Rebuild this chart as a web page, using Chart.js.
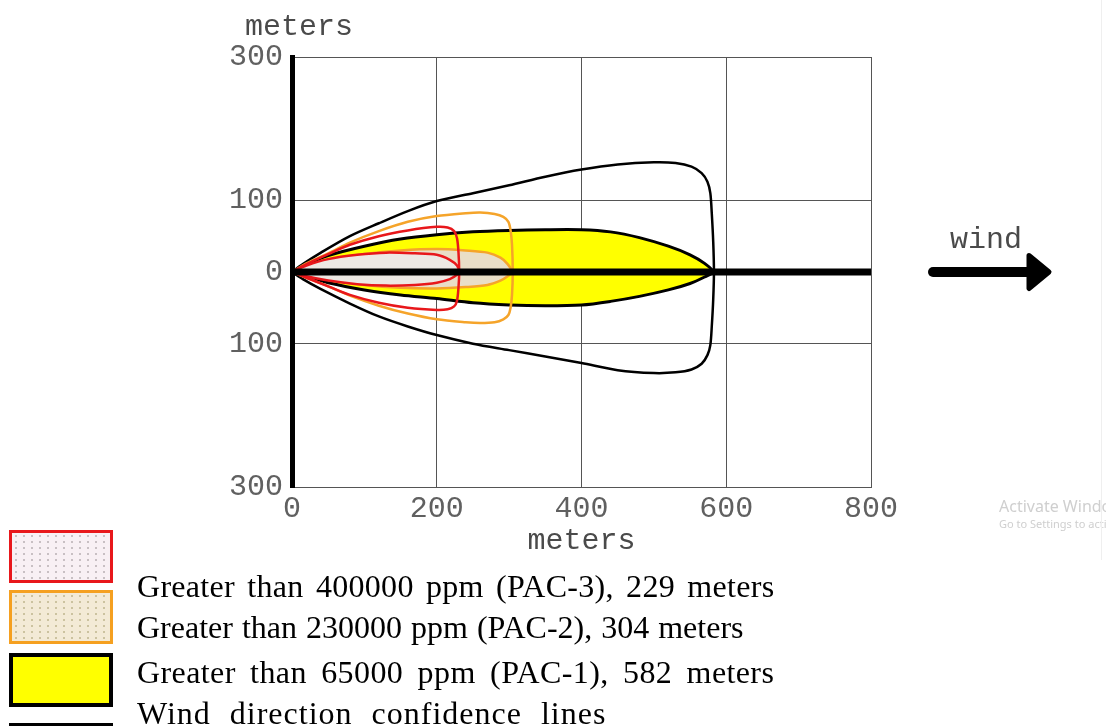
<!DOCTYPE html>
<html>
<head>
<meta charset="utf-8">
<script src="https://cdn.jsdelivr.net/npm/chart.js@4.4.1/dist/chart.umd.min.js"></script>
<style>
html,body{margin:0;padding:0;background:#fff;}
body{width:1106px;height:726px;overflow:hidden;position:relative;}
#c{position:absolute;left:0;top:0;}
.mono{position:absolute;font-family:"Liberation Mono","Courier New",monospace;font-size:30px;line-height:36px;color:#4a4a4a;white-space:nowrap;}
.leg{position:absolute;left:137px;font-family:"Liberation Serif","Times New Roman",serif;font-size:32px;line-height:32px;color:#000;white-space:nowrap;}
.sw{position:absolute;left:9px;width:104px;box-sizing:border-box;}
.wm{position:absolute;left:999px;font-family:"Noto Sans",sans-serif;color:#cfcfcf;white-space:nowrap;}
</style>
</head>
<body>
<canvas id="c" width="1106" height="726"></canvas>
<div class="mono" style="left:245px;top:9px">meters</div>
<div class="mono" style="left:950px;top:222px">wind</div>

<div class="sw" style="top:530px;height:53px;border:3px solid #e8171b;background-color:#f8f0f4;background-image:radial-gradient(#c4bcc0 0.8px, transparent 1.3px);background-size:8px 6px;"></div>
<div class="sw" style="top:590px;height:54px;border:3px solid #f5a020;background-color:#f3ead6;background-image:radial-gradient(#c9bf9c 0.8px, transparent 1.3px);background-size:8px 6px;"></div>
<div class="sw" style="top:653px;height:54px;border:4px solid #000;background:#ffff00;"></div>
<div class="sw" style="top:723px;height:4px;background:#000;"></div>

<div class="leg" id="l1" style="top:570px;word-spacing:4px;letter-spacing:0.3px">Greater than 400000 ppm (PAC-3), 229 meters</div>
<div class="leg" id="l2" style="top:611px;word-spacing:1px;">Greater than 230000 ppm (PAC-2), 304 meters</div>
<div class="leg" id="l3" style="top:656px;word-spacing:6px;letter-spacing:0.4px">Greater than 65000 ppm (PAC-1), 582 meters</div>
<div class="leg" id="l4" style="top:697px;word-spacing:10px;letter-spacing:1px">Wind direction confidence lines</div>

<div class="wm" style="top:498px;font-size:16px;line-height:16px;">Activate Windows</div>
<div class="wm" style="top:518px;font-size:11px;line-height:11px;">Go to Settings to activate Windows.</div>
<div style="position:absolute;left:1101px;top:0;width:1px;height:560px;background:#efefef;"></div>

<script>
// ---- axis ticks ----
const xTicks = [0, 200, 400, 600, 800];
const yTicks = [-300, -100, 0, 100, 300];

// ---- wind direction confidence lines (black), upper then lower edge ----
const confX = [0,15,40,80,120,160,200,250,300,350,400,450,500,530,552,566,574,578,580,582,583,
               582,580,578,574,566,552,530,500,450,400,350,300,250,200,160,120,80,40,15,0];
const confY = [0,11,27,50,68,85,99,110,121,133,143,150,153,152,147,138,126,110,82,42,0,
               -38,-76,-102,-116,-128,-136,-140,-141,-137,-127,-118,-109,-100,-88,-76,-62,-44,-24,-10,0];

// ---- PAC-1 zone (yellow), 582 m ----
const pac1X = [0,20,50,100,150,200,250,300,350,400,440,480,520,550,570,582,
               570,550,520,480,440,400,350,300,250,200,150,100,50,20,0];
const pac1Y = [0,11,23,36,46,52,56,58,59,59,56,48,36,24,12,0,
               -7,-16,-25,-34,-41,-46,-47,-46,-43,-37,-32,-25,-15,-6,0];

// ---- PAC-2 confidence (orange outer) and footprint (orange inner), 304 m ----
const pac2OutX = [0,20,50,80,120,160,200,240,260,280,292,299,302,304,305,
                  304,302,299,292,280,260,240,200,160,120,80,50,20,0];
const pac2OutY = [0,12,26,41,57,70,78,82,83,81,77,70,58,38,0,
                  -32,-50,-60,-66,-70,-71,-70,-66,-58,-47,-33,-20,-8,0];
const pac2InX = [0,20,50,100,150,200,240,270,288,298,304,
                 298,288,270,240,200,150,100,50,20,0];
const pac2InY = [0,8,17,25,30,32,30,27,20,11,0,
                 -6,-12,-18,-21,-23,-22,-18,-11,-5,0];

// ---- PAC-3 confidence (red outer) and footprint (red inner), 229 m ----
const pac3OutX = [0,20,50,80,120,160,200,215,224,228,230,231,
                  230,228,224,215,200,160,120,80,50,20,0];
const pac3OutY = [0,11,25,38,50,58,63,62,57,47,28,0,
                  -22,-40,-48,-52,-53,-50,-43,-32,-20,-8,0];
const pac3InX = [0,20,50,90,130,170,200,218,228,231,
                 228,218,200,170,130,90,50,20,0];
const pac3InY = [0,9,18,24,27,26,24,17,9,0,
                 -4,-10,-15,-18,-19,-17,-12,-6,0];

// ---- downwind centre line ----
const windX = [0, 800];
const windY = [0, 0];

const pts = (xs, ys) => xs.map((x, i) => ({x: x, y: ys[i]}));

const windArrow = {
  id: 'windArrow',
  afterDraw(chart) {
    const {ctx, chartArea} = chart;
    const y = chart.scales.y.getPixelForValue(0);
    const r = chartArea.right;
    ctx.save();
    ctx.strokeStyle = '#000';
    ctx.fillStyle = '#000';
    ctx.lineCap = 'round';
    ctx.lineWidth = 10;
    ctx.beginPath();
    ctx.moveTo(r + 62, y);
    ctx.lineTo(r + 160, y);
    ctx.stroke();
    ctx.lineJoin = 'round';
    ctx.lineWidth = 5;
    ctx.beginPath();
    ctx.moveTo(r + 158, y - 16.5);
    ctx.lineTo(r + 178, y);
    ctx.lineTo(r + 158, y + 16.5);
    ctx.closePath();
    ctx.fill();
    ctx.stroke();
    ctx.restore();
  }
};

const monoFont = {family: '"Liberation Mono", "Courier New", monospace', size: 30};

new Chart(document.getElementById('c'), {
  type: 'scatter',
  data: {
    datasets: [
      {label: 'wind', data: pts(windX, windY), showLine: true, borderColor: '#000', borderWidth: 7, fill: false, tension: 0, order: 0},
      {label: 'PAC-3 footprint', data: pts(pac3InX, pac3InY), showLine: true, borderColor: '#e8171b', borderWidth: 2.5, fill: 'shape', backgroundColor: '#ede8e3', order: 1},
      {label: 'PAC-3 confidence', data: pts(pac3OutX, pac3OutY), showLine: true, borderColor: '#e8171b', borderWidth: 2.5, fill: false, order: 2},
      {label: 'PAC-2 footprint', data: pts(pac2InX, pac2InY), showLine: true, borderColor: '#f5a42a', borderWidth: 2.5, fill: 'shape', backgroundColor: '#e9dec7', order: 3},
      {label: 'PAC-2 confidence', data: pts(pac2OutX, pac2OutY), showLine: true, borderColor: '#f5a42a', borderWidth: 2.5, fill: false, order: 4},
      {label: 'PAC-1', data: pts(pac1X, pac1Y), showLine: true, borderColor: '#000', borderWidth: 3, fill: 'shape', backgroundColor: '#ffff00', order: 5},
      {label: 'Wind direction confidence lines', data: pts(confX, confY), showLine: true, borderColor: '#000', borderWidth: 2.5, fill: false, order: 6}
    ]
  },
  options: {
    responsive: false,
    animation: false,
    devicePixelRatio: 1,
    layout: {padding: {left: 0, top: 57, right: 235, bottom: 0}},
    elements: {
      point: {radius: 0, hoverRadius: 0},
      line: {tension: 0.3, borderJoinStyle: 'round'}
    },
    plugins: {legend: {display: false}, tooltip: {enabled: false}},
    events: [],
    scales: {
      x: {
        type: 'linear', min: 0, max: 800,
        afterBuildTicks(s) { s.ticks = xTicks.map(v => ({value: v})); },
        afterFit(s) { s.height = 239; },
        ticks: {padding: 4, maxRotation: 0, color: '#606060', font: monoFont},
        grid: {color: '#555', lineWidth: 1, drawTicks: false},
        border: {color: '#555', width: 1},
        title: {display: true, text: 'meters', color: '#4a4a4a', font: monoFont, padding: {top: 0, bottom: 167}}
      },
      y: {
        type: 'linear', min: -300, max: 300,
        afterBuildTicks(s) { s.ticks = yTicks.map(v => ({value: v})); },
        afterFit(s) { s.width = 292; },
        ticks: {padding: 9, color: '#606060', font: monoFont, callback: v => String(Math.abs(v))},
        grid: {color: '#555', lineWidth: 1, drawTicks: false},
        border: {color: '#000', width: 5}
      }
    }
  },
  plugins: [windArrow]
});
</script>
</body>
</html>
